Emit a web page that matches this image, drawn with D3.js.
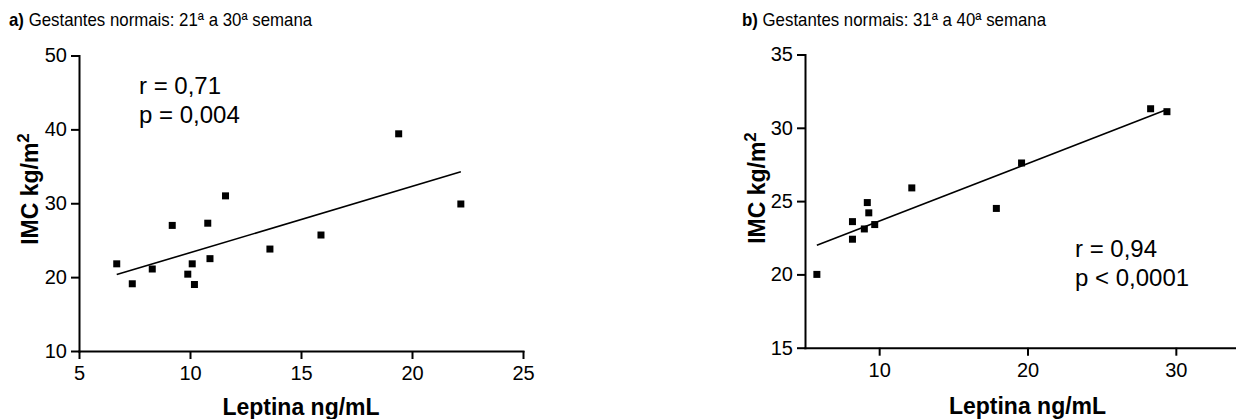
<!DOCTYPE html>
<html>
<head>
<meta charset="utf-8">
<script src="https://cdn.jsdelivr.net/npm/d3@7"></script>
<style>
  body { margin: 0; background: #fff; }
  svg { display: block; font-family: "Liberation Sans", Arial, sans-serif; }
  .axis path, .axis line { stroke: #000; stroke-width: 2; }
  .axis path { stroke-linecap: square; }
  .axis text { font-size: 20px; fill: #000; font-family: "Liberation Sans", Arial, sans-serif; }
  .title { font-family: "Liberation Sans Narrow", "Liberation Sans", Arial, sans-serif; font-size: 18px; }
  .label { font-size: 23px; font-weight: bold; }
  .stat { font-size: 24px; }
</style>
</head>
<body>
<svg id="chart" width="1236" height="419"></svg>
<script>
// panel a: 21a a 30a semana
var leptinaA = [6.7, 7.4, 8.3, 9.2, 9.9, 10.1, 10.2, 10.8, 10.9, 11.6, 13.6, 15.9, 19.4, 22.2];
var imcA = [21.8, 19.1, 21.1, 27.0, 20.4, 21.8, 19.0, 27.3, 22.5, 31.0, 23.8, 25.7, 39.4, 29.9];
var xTicksA = [5, 10, 15, 20, 25];
var yTicksA = [10, 20, 30, 40, 50];
var statsA = ["r = 0,71", "p = 0,004"];

// panel b: 31a a 40a semana
var leptinaB = [5.8, 8.2, 8.2, 9.0, 9.2, 9.3, 9.7, 12.2, 17.9, 19.6, 28.3, 29.4];
var imcB = [20.0, 23.6, 22.4, 23.1, 24.9, 24.2, 23.4, 25.9, 24.5, 27.6, 31.3, 31.1];
var xTicksB = [10, 20, 30];
var yTicksB = [15, 20, 25, 30, 35];
var statsB = ["r = 0,94", "p < 0,0001"];

var svg = d3.select("#chart");

// layout of each panel
var panels = [
    { tag: "a)", title: " Gestantes normais: 21ª a 30ª semana", titleX: 9, titleY: 26,
      xs: leptinaA, ys: imcA, xTicks: xTicksA, yTicks: yTicksA, stats: statsA,
      xDomain: [5, 25], yDomain: [10, 50],
      left: 79, right: 523, top: 55.5, bottom: 351,
      xLabelY: 415, yLabelX: 38, yLabelY: 189, statX: 139, statY: 94 },
    { tag: "b)", title: " Gestantes normais: 31ª a 40ª semana", titleX: 742, titleY: 26,
      xs: leptinaB, ys: imcB, xTicks: xTicksB, yTicks: yTicksB, stats: statsB,
      xDomain: [5, 35], yDomain: [15, 35],
      left: 805, right: 1250, top: 54.5, bottom: 347.7,
      xLabelY: 414, yLabelX: 765, yLabelY: 188, statX: 1075, statY: 256.5 }
];

panels.forEach(drawPanel);

function drawPanel(p) {
    var x = d3.scaleLinear().domain(p.xDomain).range([p.left, p.right]),
        y = d3.scaleLinear().domain(p.yDomain).range([p.bottom, p.top]);

    var g = svg.append("g");

    // title (condensed like the original)
    var t = g.append("text")
        .attr("class", "title")
        .attr("transform", "translate(" + p.titleX + "," + p.titleY + ") scale(0.935,1)");
    t.append("tspan").style("font-weight", "bold").text(p.tag);
    t.append("tspan").text(p.title);

    // x-axis
    g.append("g")
        .attr("class", "x axis")
        .attr("transform", "translate(0," + p.bottom + ")")
        .call(d3.axisBottom(x).tickValues(p.xTicks).tickSize(8).tickSizeOuter(0).tickPadding(7));

    // y-axis
    g.append("g")
        .attr("class", "y axis")
        .attr("transform", "translate(" + p.left + ",0)")
        .call(d3.axisLeft(y).tickValues(p.yTicks).tickSize(8).tickSizeOuter(0).tickPadding(4));

    // axis labels
    g.append("text")
        .attr("class", "label")
        .attr("x", (p.left + p.right) / 2)
        .attr("y", p.xLabelY)
        .style("text-anchor", "middle")
        .text("Leptina ng/mL");

    var yl = g.append("text")
        .attr("class", "label")
        .attr("transform", "translate(" + p.yLabelX + "," + p.yLabelY + ") rotate(-90)")
        .style("text-anchor", "middle");
    yl.append("tspan").text("IMC kg/m");
    yl.append("tspan").attr("dy", "-0.55em").style("font-size", "17px").text("2");

    // regression line over the data range
    var fit = linearFit(p.xs, p.ys),
        ext = d3.extent(p.xs);
    g.append("line")
        .attr("x1", x(ext[0]))
        .attr("y1", y(fit.a + fit.b * ext[0]))
        .attr("x2", x(ext[1]))
        .attr("y2", y(fit.a + fit.b * ext[1]))
        .style("stroke", "#000")
        .style("stroke-width", 1.6);

    // draw dots
    g.selectAll(".dot")
        .data(p.xs.map(function (d, i) { return [d, p.ys[i]]; }))
        .enter().append("rect")
        .attr("class", "dot")
        .attr("x", function (d) { return x(d[0]) - 3.5; })
        .attr("y", function (d) { return y(d[1]) - 3.5; })
        .attr("width", 7)
        .attr("height", 7)
        .style("fill", "#000");

    // r and p
    g.selectAll(".stat")
        .data(p.stats)
        .enter().append("text")
        .attr("class", "stat")
        .attr("x", p.statX)
        .attr("y", function (d, i) { return p.statY + i * 29; })
        .text(function (d) { return d; });
}

// least squares fit
function linearFit(xs, ys) {
    var mx = d3.mean(xs), my = d3.mean(ys), sxy = 0, sxx = 0;
    xs.forEach(function (v, i) {
        sxy += (v - mx) * (ys[i] - my);
        sxx += (v - mx) * (v - mx);
    });
    var b = sxy / sxx;
    return { a: my - b * mx, b: b };
}
</script>
</body>
</html>
